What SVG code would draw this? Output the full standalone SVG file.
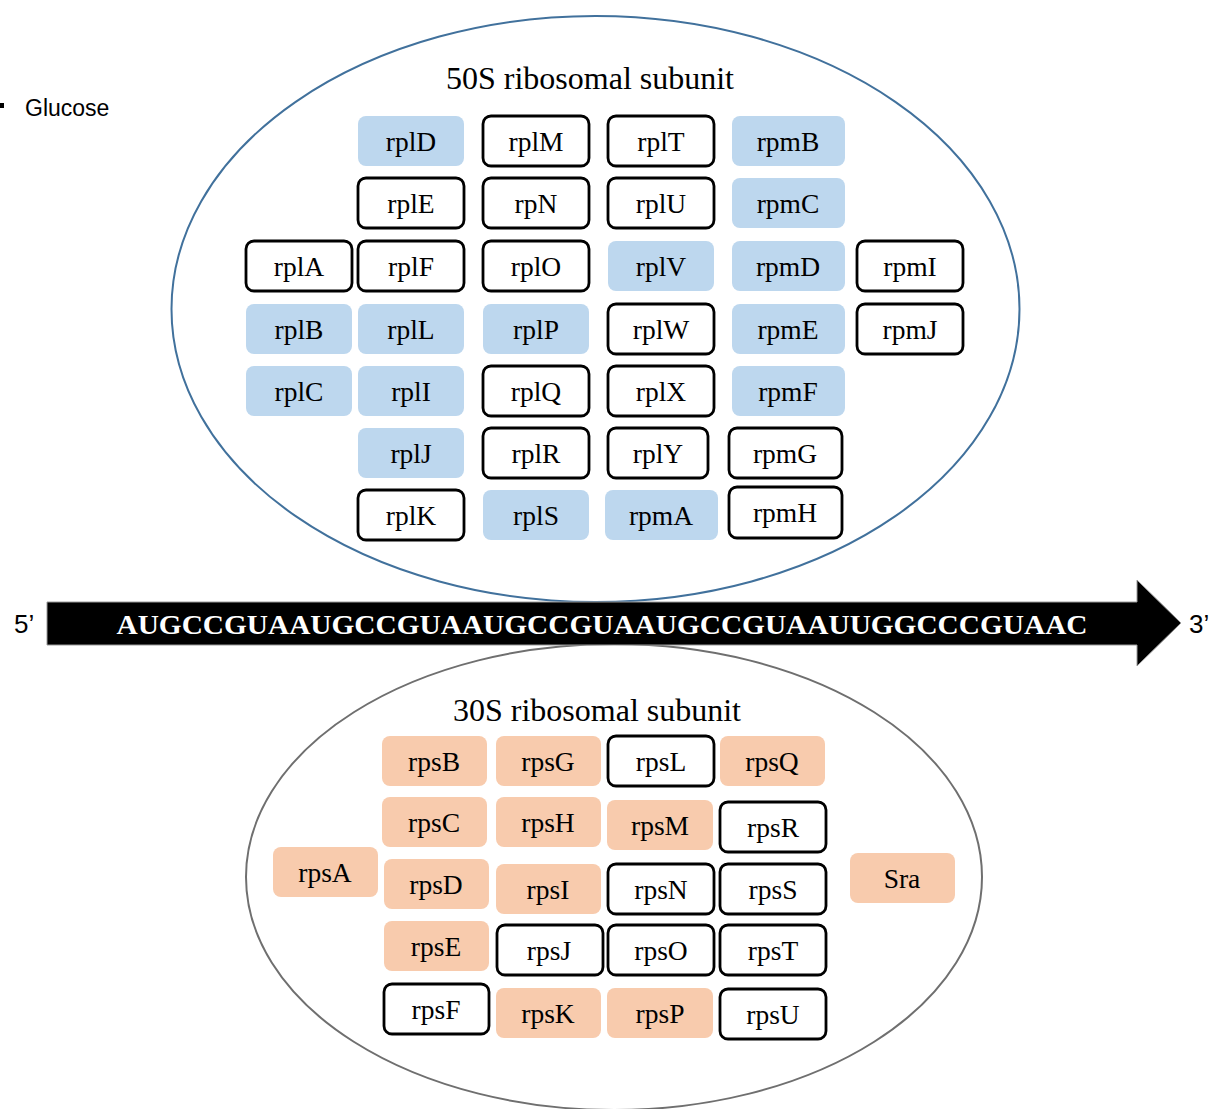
<svg xmlns="http://www.w3.org/2000/svg" width="1212" height="1109" viewBox="0 0 1212 1109">
<style>
.t{font-family:"Liberation Serif","Times New Roman",serif;font-size:27.5px;text-anchor:middle;fill:#000}
.ti{font-family:"Liberation Serif","Times New Roman",serif;font-size:32px;text-anchor:middle;fill:#000}
.s{font-family:"Liberation Sans",Arial,sans-serif;fill:#000}
.b{fill:#BDD7EE;stroke:none}
.o{fill:#F8CBAD;stroke:none}
.w{fill:#fff;stroke:#000;stroke-width:2.8}
</style>
<rect width="1212" height="1109" fill="#fff"/>
<g id="legend">
<rect x="0" y="103" width="4" height="5" fill="#000"/>
<text class="s" x="25" y="116" font-size="23">Glucose</text>
</g>
<g id="subunit50S">
<ellipse cx="595.5" cy="309" rx="424" ry="293" fill="#fff" stroke="#41719C" stroke-width="2"/>
<text class="ti" x="590" y="89">50S ribosomal subunit</text>
</g>
<g id="subunit30S">
<ellipse cx="614" cy="877" rx="368" ry="233" fill="#fff" stroke="#6f6f6f" stroke-width="2"/>
<text class="ti" x="597" y="721">30S ribosomal subunit</text>
</g>
<g id="connectors">
<path d="M47,602 H1137 V580 L1181,623 L1137,666 V645 H47 Z" fill="#000" stroke="#9a9a9a" stroke-width="1"/>
</g>
<g id="mrna">
<text x="602" y="634" font-family="Liberation Serif,Times New Roman,serif" font-size="28" font-weight="bold" fill="#fff" text-anchor="middle" textLength="971" lengthAdjust="spacingAndGlyphs">AUGCCGUAAUGCCGUAAUGCCGUAAUGCCGUAAUUGGCCCGUAAC</text>
<text class="s" x="14" y="633" font-size="26">5’</text>
<text class="s" x="1189" y="633" font-size="26">3’</text>
</g>
<!-- 50S proteins -->
<g id="rplA"><rect class="w" x="246" y="241" width="106" height="50" rx="8"/><text class="t" x="299" y="276">rplA</text></g>
<g id="rplB"><rect class="b" x="246" y="304" width="106" height="50" rx="8"/><text class="t" x="299" y="339">rplB</text></g>
<g id="rplC"><rect class="b" x="246" y="366" width="106" height="50" rx="8"/><text class="t" x="299" y="401">rplC</text></g>
<g id="rplD"><rect class="b" x="358" y="116" width="106" height="50" rx="8"/><text class="t" x="411" y="151">rplD</text></g>
<g id="rplE"><rect class="w" x="358" y="178" width="106" height="50" rx="8"/><text class="t" x="411" y="213">rplE</text></g>
<g id="rplF"><rect class="w" x="358" y="241" width="106" height="50" rx="8"/><text class="t" x="411" y="276">rplF</text></g>
<g id="rplL"><rect class="b" x="358" y="304" width="106" height="50" rx="8"/><text class="t" x="411" y="339">rplL</text></g>
<g id="rplI"><rect class="b" x="358" y="366" width="106" height="50" rx="8"/><text class="t" x="411" y="401">rplI</text></g>
<g id="rplJ"><rect class="b" x="358" y="428" width="106" height="50" rx="8"/><text class="t" x="411" y="463">rplJ</text></g>
<g id="rplK"><rect class="w" x="358" y="490" width="106" height="50" rx="8"/><text class="t" x="411" y="525">rplK</text></g>
<g id="rplM"><rect class="w" x="483" y="116" width="106" height="50" rx="8"/><text class="t" x="536" y="151">rplM</text></g>
<g id="rpN"><rect class="w" x="483" y="178" width="106" height="50" rx="8"/><text class="t" x="536" y="213">rpN</text></g>
<g id="rplO"><rect class="w" x="483" y="241" width="106" height="50" rx="8"/><text class="t" x="536" y="276">rplO</text></g>
<g id="rplP"><rect class="b" x="483" y="304" width="106" height="50" rx="8"/><text class="t" x="536" y="339">rplP</text></g>
<g id="rplQ"><rect class="w" x="483" y="366" width="106" height="50" rx="8"/><text class="t" x="536" y="401">rplQ</text></g>
<g id="rplR"><rect class="w" x="483" y="428" width="106" height="50" rx="8"/><text class="t" x="536" y="463">rplR</text></g>
<g id="rplS"><rect class="b" x="483" y="490" width="106" height="50" rx="8"/><text class="t" x="536" y="525">rplS</text></g>
<g id="rplT"><rect class="w" x="608" y="116" width="106" height="50" rx="8"/><text class="t" x="661" y="151">rplT</text></g>
<g id="rplU"><rect class="w" x="608" y="178" width="106" height="50" rx="8"/><text class="t" x="661" y="213">rplU</text></g>
<g id="rplV"><rect class="b" x="608" y="241" width="106" height="50" rx="8"/><text class="t" x="661" y="276">rplV</text></g>
<g id="rplW"><rect class="w" x="608" y="304" width="106" height="50" rx="8"/><text class="t" x="661" y="339">rplW</text></g>
<g id="rplX"><rect class="w" x="608" y="366" width="106" height="50" rx="8"/><text class="t" x="661" y="401">rplX</text></g>
<g id="rplY"><rect class="w" x="608" y="428" width="100" height="50" rx="8"/><text class="t" x="658" y="463">rplY</text></g>
<g id="rpmA"><rect class="b" x="605" y="490" width="113" height="50" rx="8"/><text class="t" x="661" y="525">rpmA</text></g>
<g id="rpmB"><rect class="b" x="732" y="116" width="113" height="50" rx="8"/><text class="t" x="788" y="151">rpmB</text></g>
<g id="rpmC"><rect class="b" x="732" y="178" width="113" height="50" rx="8"/><text class="t" x="788" y="213">rpmC</text></g>
<g id="rpmD"><rect class="b" x="732" y="241" width="113" height="50" rx="8"/><text class="t" x="788" y="276">rpmD</text></g>
<g id="rpmE"><rect class="b" x="732" y="304" width="113" height="50" rx="8"/><text class="t" x="788" y="339">rpmE</text></g>
<g id="rpmF"><rect class="b" x="732" y="366" width="113" height="50" rx="8"/><text class="t" x="788" y="401">rpmF</text></g>
<g id="rpmG"><rect class="w" x="729" y="428" width="113" height="50" rx="8"/><text class="t" x="785" y="463">rpmG</text></g>
<g id="rpmH"><rect class="w" x="729" y="487" width="113" height="51" rx="8"/><text class="t" x="785" y="522">rpmH</text></g>
<g id="rpmI"><rect class="w" x="857" y="241" width="106" height="50" rx="8"/><text class="t" x="910" y="276">rpmI</text></g>
<g id="rpmJ"><rect class="w" x="857" y="304" width="106" height="50" rx="8"/><text class="t" x="910" y="339">rpmJ</text></g>
<!-- 30S proteins -->
<g id="rpsA"><rect class="o" x="273" y="847" width="105" height="50" rx="8"/><text class="t" x="325" y="882">rpsA</text></g>
<g id="rpsB"><rect class="o" x="382" y="736" width="105" height="50" rx="8"/><text class="t" x="434" y="771">rpsB</text></g>
<g id="rpsC"><rect class="o" x="382" y="797" width="105" height="50" rx="8"/><text class="t" x="434" y="832">rpsC</text></g>
<g id="rpsD"><rect class="o" x="384" y="859" width="105" height="50" rx="8"/><text class="t" x="436" y="894">rpsD</text></g>
<g id="rpsE"><rect class="o" x="384" y="921" width="105" height="50" rx="8"/><text class="t" x="436" y="956">rpsE</text></g>
<g id="rpsF"><rect class="w" x="384" y="984" width="105" height="50" rx="8"/><text class="t" x="436" y="1019">rpsF</text></g>
<g id="rpsG"><rect class="o" x="496" y="736" width="105" height="50" rx="8"/><text class="t" x="548" y="771">rpsG</text></g>
<g id="rpsH"><rect class="o" x="496" y="797" width="105" height="50" rx="8"/><text class="t" x="548" y="832">rpsH</text></g>
<g id="rpsI"><rect class="o" x="496" y="864" width="105" height="50" rx="8"/><text class="t" x="548" y="899">rpsI</text></g>
<g id="rpsJ"><rect class="w" x="497" y="925" width="106" height="50" rx="8"/><text class="t" x="549" y="960">rpsJ</text></g>
<g id="rpsK"><rect class="o" x="496" y="988" width="105" height="50" rx="8"/><text class="t" x="548" y="1023">rpsK</text></g>
<g id="rpsL"><rect class="w" x="608" y="736" width="106" height="50" rx="8"/><text class="t" x="661" y="771">rpsL</text></g>
<g id="rpsM"><rect class="o" x="607" y="800" width="106" height="50" rx="8"/><text class="t" x="660" y="835">rpsM</text></g>
<g id="rpsN"><rect class="w" x="608" y="864" width="106" height="50" rx="8"/><text class="t" x="661" y="899">rpsN</text></g>
<g id="rpsO"><rect class="w" x="608" y="925" width="106" height="50" rx="8"/><text class="t" x="661" y="960">rpsO</text></g>
<g id="rpsP"><rect class="o" x="607" y="988" width="106" height="50" rx="8"/><text class="t" x="660" y="1023">rpsP</text></g>
<g id="rpsQ"><rect class="o" x="720" y="736" width="105" height="50" rx="8"/><text class="t" x="772" y="771">rpsQ</text></g>
<g id="rpsR"><rect class="w" x="720" y="802" width="106" height="50" rx="8"/><text class="t" x="773" y="837">rpsR</text></g>
<g id="rpsS"><rect class="w" x="720" y="864" width="106" height="50" rx="8"/><text class="t" x="773" y="899">rpsS</text></g>
<g id="rpsT"><rect class="w" x="720" y="925" width="106" height="50" rx="8"/><text class="t" x="773" y="960">rpsT</text></g>
<g id="rpsU"><rect class="w" x="720" y="989" width="106" height="50" rx="8"/><text class="t" x="773" y="1024">rpsU</text></g>
<g id="Sra"><rect class="o" x="850" y="853" width="105" height="50" rx="8"/><text class="t" x="902" y="888">Sra</text></g>
</svg>
